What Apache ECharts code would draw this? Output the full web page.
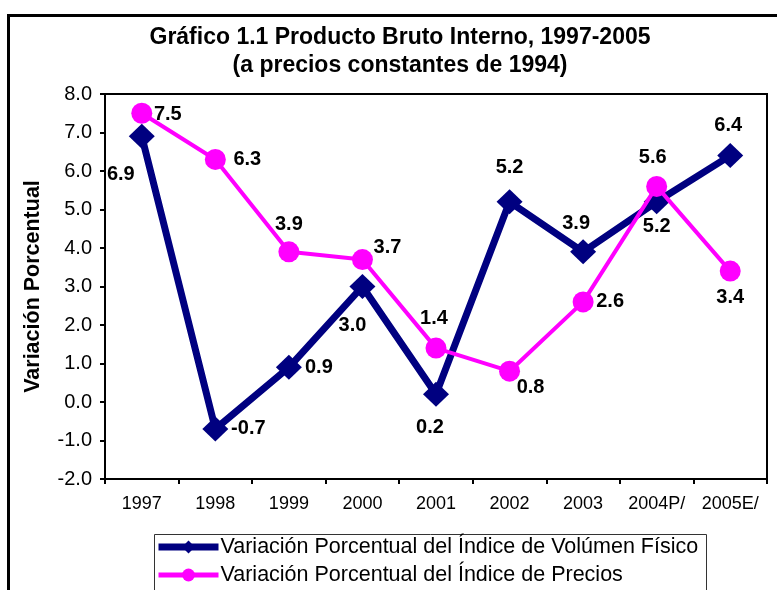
<!DOCTYPE html>
<html>
<head>
<meta charset="utf-8">
<script src="https://cdn.jsdelivr.net/npm/echarts@6/dist/echarts.min.js"></script>
<style>
  html, body { margin: 0; padding: 0; background: #fff; }
  #main { width: 777px; height: 590px; }
</style>
</head>
<body>
<div id="main"></div>
<script>
const years = ["1997", "1998", "1999", "2000", "2001", "2002", "2003", "2004P/", "2005E/"];
const volumenFisico = [6.9, -0.7, 0.9, 3.0, 0.2, 5.2, 3.9, 5.2, 6.4];
const precios = [7.5, 6.3, 3.9, 3.7, 1.4, 0.8, 2.6, 5.6, 3.4];

const volName = "Variación Porcentual del Índice de Volúmen Físico";
const preName = "Variación Porcentual del Índice de Precios";

// where each value label sits relative to its point (px)
const volOffsets = [[-21, 38], [33, 0], [30, 0], [-10, 39], [-6, 33], [0, -34], [-7, -28], [0, 25], [-2, -30]];
const preOffsets = [[26, 1], [32, 0], [0, -27], [25, -12], [-2, -30], [21, 16], [27, 0], [-4, -29], [0, 26]];

const font = "'Liberation Sans', Arial, sans-serif";

const withLabels = (values, offsets) =>
  values.map((v, i) => ({
    value: v,
    label: { offset: offsets[i] },
  }));

const labelStyle = {
  show: true,
  position: "inside",
  fontFamily: font,
  fontWeight: "bold",
  fontSize: 20,
  color: "#000",
  formatter: (p) => p.value.toFixed(1),
};

const chart = echarts.init(document.getElementById("main"));

chart.setOption({
  animation: false,
  backgroundColor: "#fff",
  title: {
    text: "Gráfico 1.1 Producto Bruto Interno, 1997-2005\n(a precios constantes de 1994)",
    left: 395,
    textAlign: "center",
    top: 19,
    textStyle: {
      fontFamily: font,
      fontWeight: "bold",
      fontSize: 23,
      lineHeight: 28,
      color: "#000",
    },
  },
  graphic: [
    {
      // outer chart frame
      type: "rect",
      left: 6,
      top: 13,
      shape: { width: 820, height: 640 },
      style: { fill: null, stroke: "#000", lineWidth: 3 },
      z: -1,
    },
    {
      // legend box
      type: "rect",
      left: 152,
      top: 532,
      shape: { width: 552, height: 100 },
      style: { fill: null, stroke: "#333", lineWidth: 1 },
      z: -1,
    },
  ],
  legend: {
    data: [
      { name: volName, lineStyle: { width: 7 } },
      { name: preName, lineStyle: { width: 5 } },
    ],
    orient: "vertical",
    left: 155,
    top: 536,
    padding: 0,
    itemGap: 6,
    itemWidth: 60,
    itemHeight: 16,
    textStyle: {
      fontFamily: font,
      fontSize: 21.5,
      lineHeight: 22,
      color: "#000",
      padding: [0, 0, 0, -3],
    },
  },
  grid: {
    left: 105,
    top: 94,
    right: 10,
    bottom: 111,
    show: true,
    borderColor: "#000",
    borderWidth: 2,
  },
  xAxis: {
    type: "category",
    data: years,
    boundaryGap: true,
    axisLine: { onZero: false, lineStyle: { color: "#000", width: 2 } },
    axisTick: { show: true, length: 5, lineStyle: { color: "#000", width: 2 } },
    axisLabel: {
      interval: 0,
      margin: 16,
      fontFamily: font,
      fontSize: 18,
      color: "#000",
    },
    splitLine: { show: false },
  },
  yAxis: {
    type: "value",
    min: -2,
    max: 8,
    interval: 1,
    name: "Variación Porcentual",
    nameLocation: "middle",
    nameGap: 61,
    nameRotate: 90,
    nameTextStyle: {
      fontFamily: font,
      fontWeight: "bold",
      fontSize: 21.5,
      color: "#000",
    },
    axisLine: { show: true, lineStyle: { color: "#000", width: 2 } },
    axisTick: { show: true, length: 5, lineStyle: { color: "#000", width: 2 } },
    axisLabel: {
      margin: 13,
      fontFamily: font,
      fontSize: 20,
      color: "#000",
      formatter: (v) => v.toFixed(1),
    },
    splitLine: { show: false },
  },
  series: [
    {
      name: volName,
      type: "line",
      data: withLabels(volumenFisico, volOffsets),
      symbol: "diamond",
      symbolSize: [26, 25],
      color: "#000080",
      lineStyle: { color: "#000080", width: 7 },
      itemStyle: { color: "#000080" },
      label: labelStyle,
      z: 2,
    },
    {
      name: preName,
      type: "line",
      data: withLabels(precios, preOffsets),
      symbol: "circle",
      symbolSize: 21,
      color: "#FF00FF",
      lineStyle: { color: "#FF00FF", width: 4 },
      itemStyle: { color: "#FF00FF" },
      label: labelStyle,
      z: 3,
    },
  ],
});
</script>
</body>
</html>
